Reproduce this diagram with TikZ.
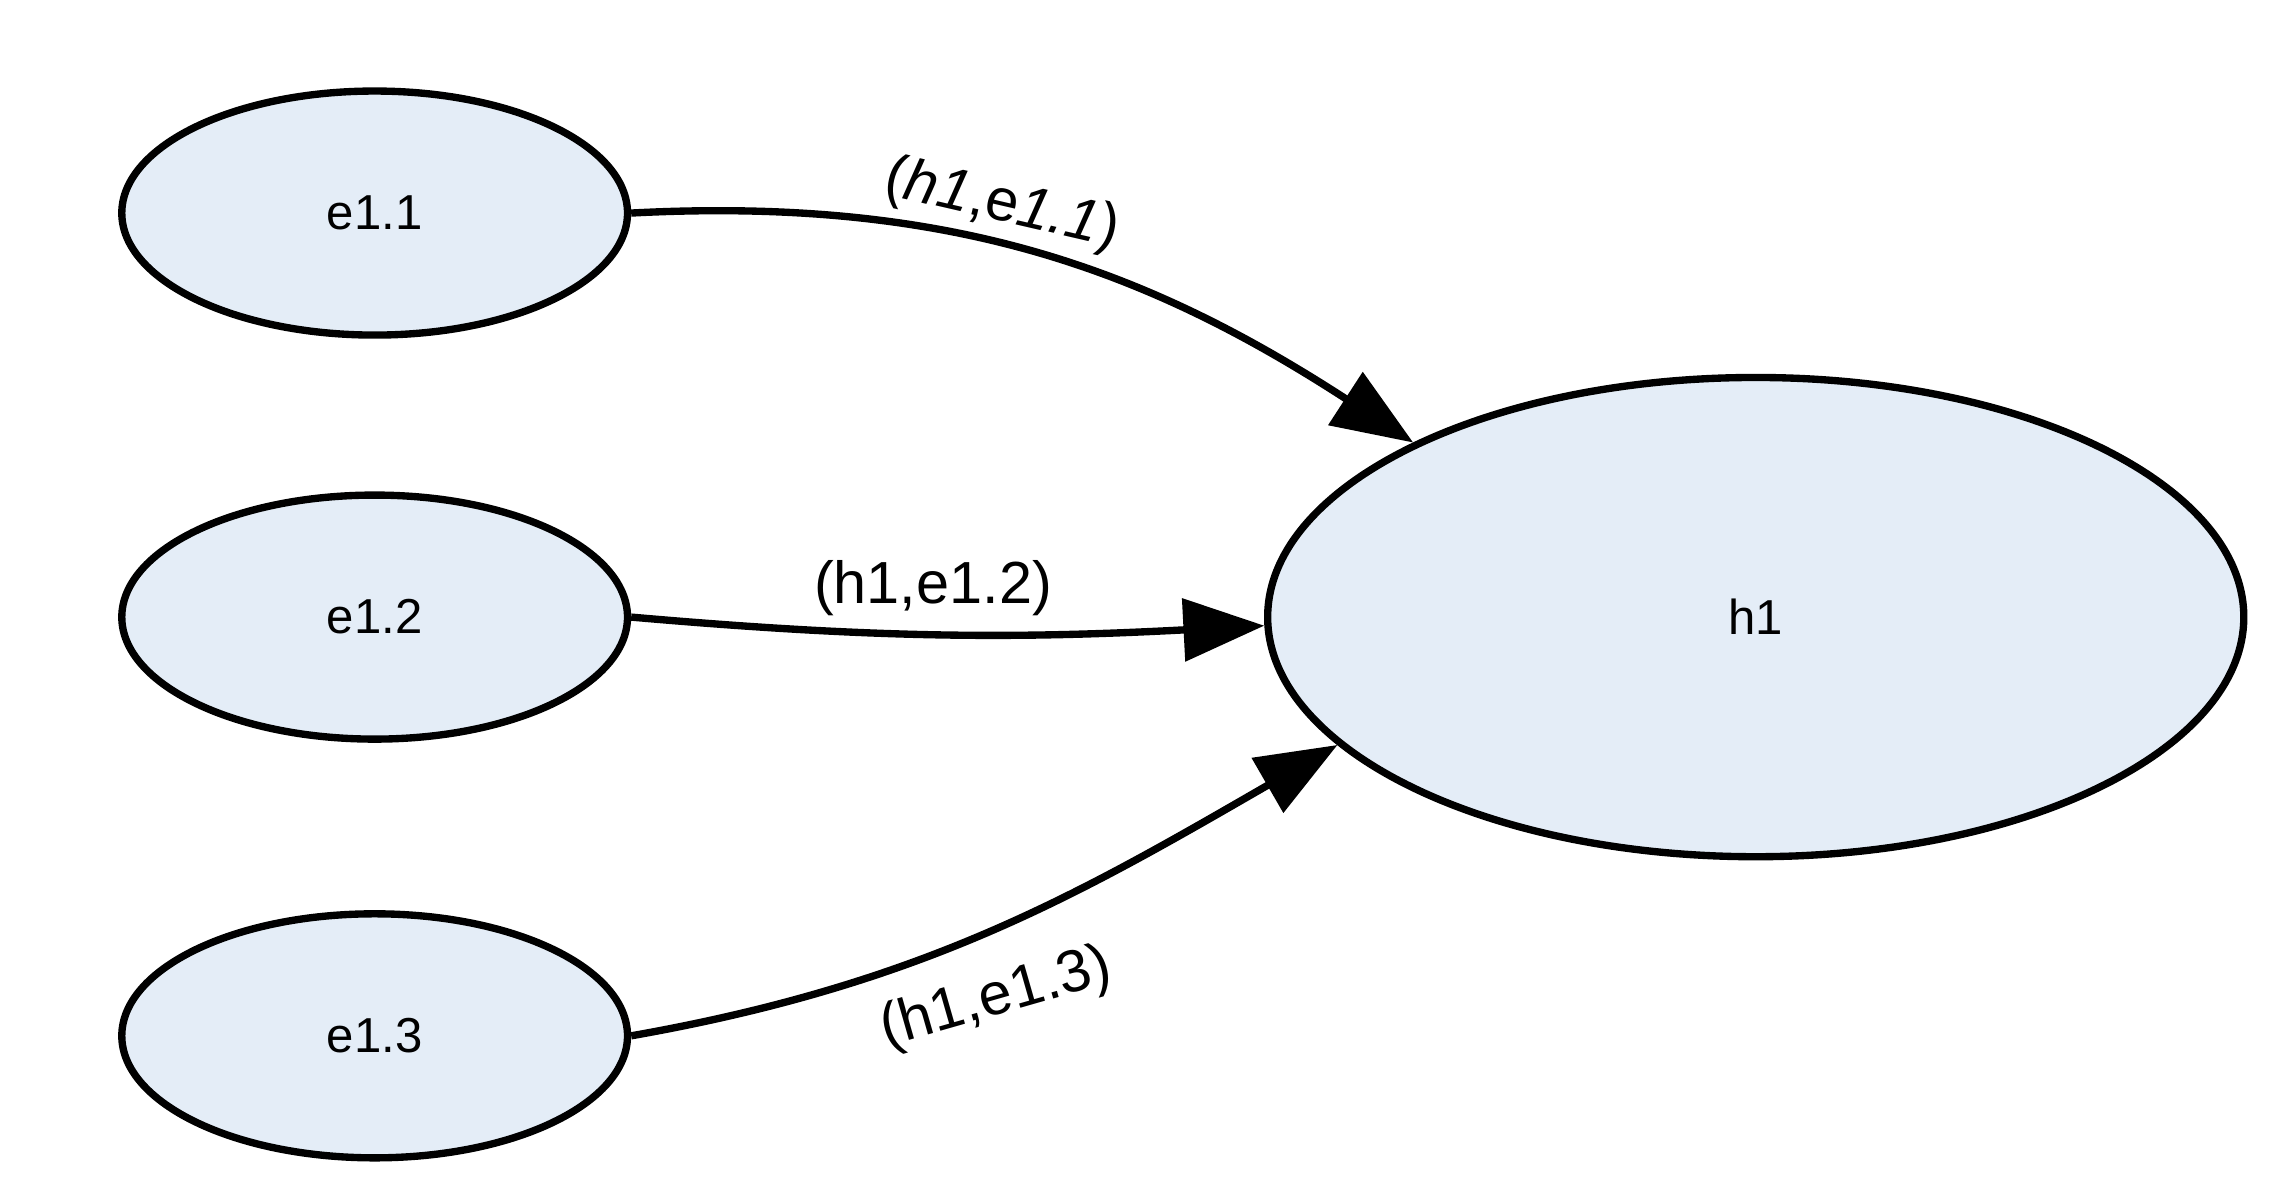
\documentclass[tikz,border=0pt]{standalone}
\usepackage{fontspec}
\setmainfont{Liberation Sans}
\usetikzlibrary{shapes.geometric,arrows.meta}
\begin{document}
\begin{tikzpicture}[x=0.01cm,y=-0.01cm,
  nd/.style={ellipse,draw=black,line width=0.05cm,fill=blue!30!cyan!8!white,inner sep=0pt,font=\fontsize{9.5pt}{11pt}\selectfont},
  ed/.style={line width=0.05cm,-{Triangle[length=0.55cm,width=0.42cm]}},
  lb/.style={font=\fontsize{11.5pt}{13pt}\selectfont,inner sep=0pt}]
\useasboundingbox (0,0) rectangle (1560,811);
\definecolor{fillc}{RGB}{228,237,247}
\tikzset{nd/.append style={fill=fillc}}
\node[nd,minimum width=344\pgflinewidth/5,minimum width=3.44cm,minimum height=1.66cm] (a) at (255,145) {e1.1};
\node[nd,minimum width=3.44cm,minimum height=1.66cm] (b) at (255,420) {e1.2};
\node[nd,minimum width=3.44cm,minimum height=1.66cm] (c) at (255,705) {e1.3};
\node[nd,minimum width=6.64cm,minimum height=3.26cm] (h) at (1195,420) {h1};
\draw[ed] (a.east) to[out=3,in=147] (h.153);
\draw[ed] (b.east) to[out=-5,in=183] (h.181);
\draw[ed] (c.east) to[out=10,in=210] (h.197);
\node[lb,rotate=-13] (la) at (682,140) {(\textit{h1},e\textit{1.1})};
\node[lb] (lbb) at (635,400) {(h1,e1.2)};
\node[lb,rotate=16] (lc) at (678,680) {(h1,e1.3)};
\end{tikzpicture}
\end{document}
